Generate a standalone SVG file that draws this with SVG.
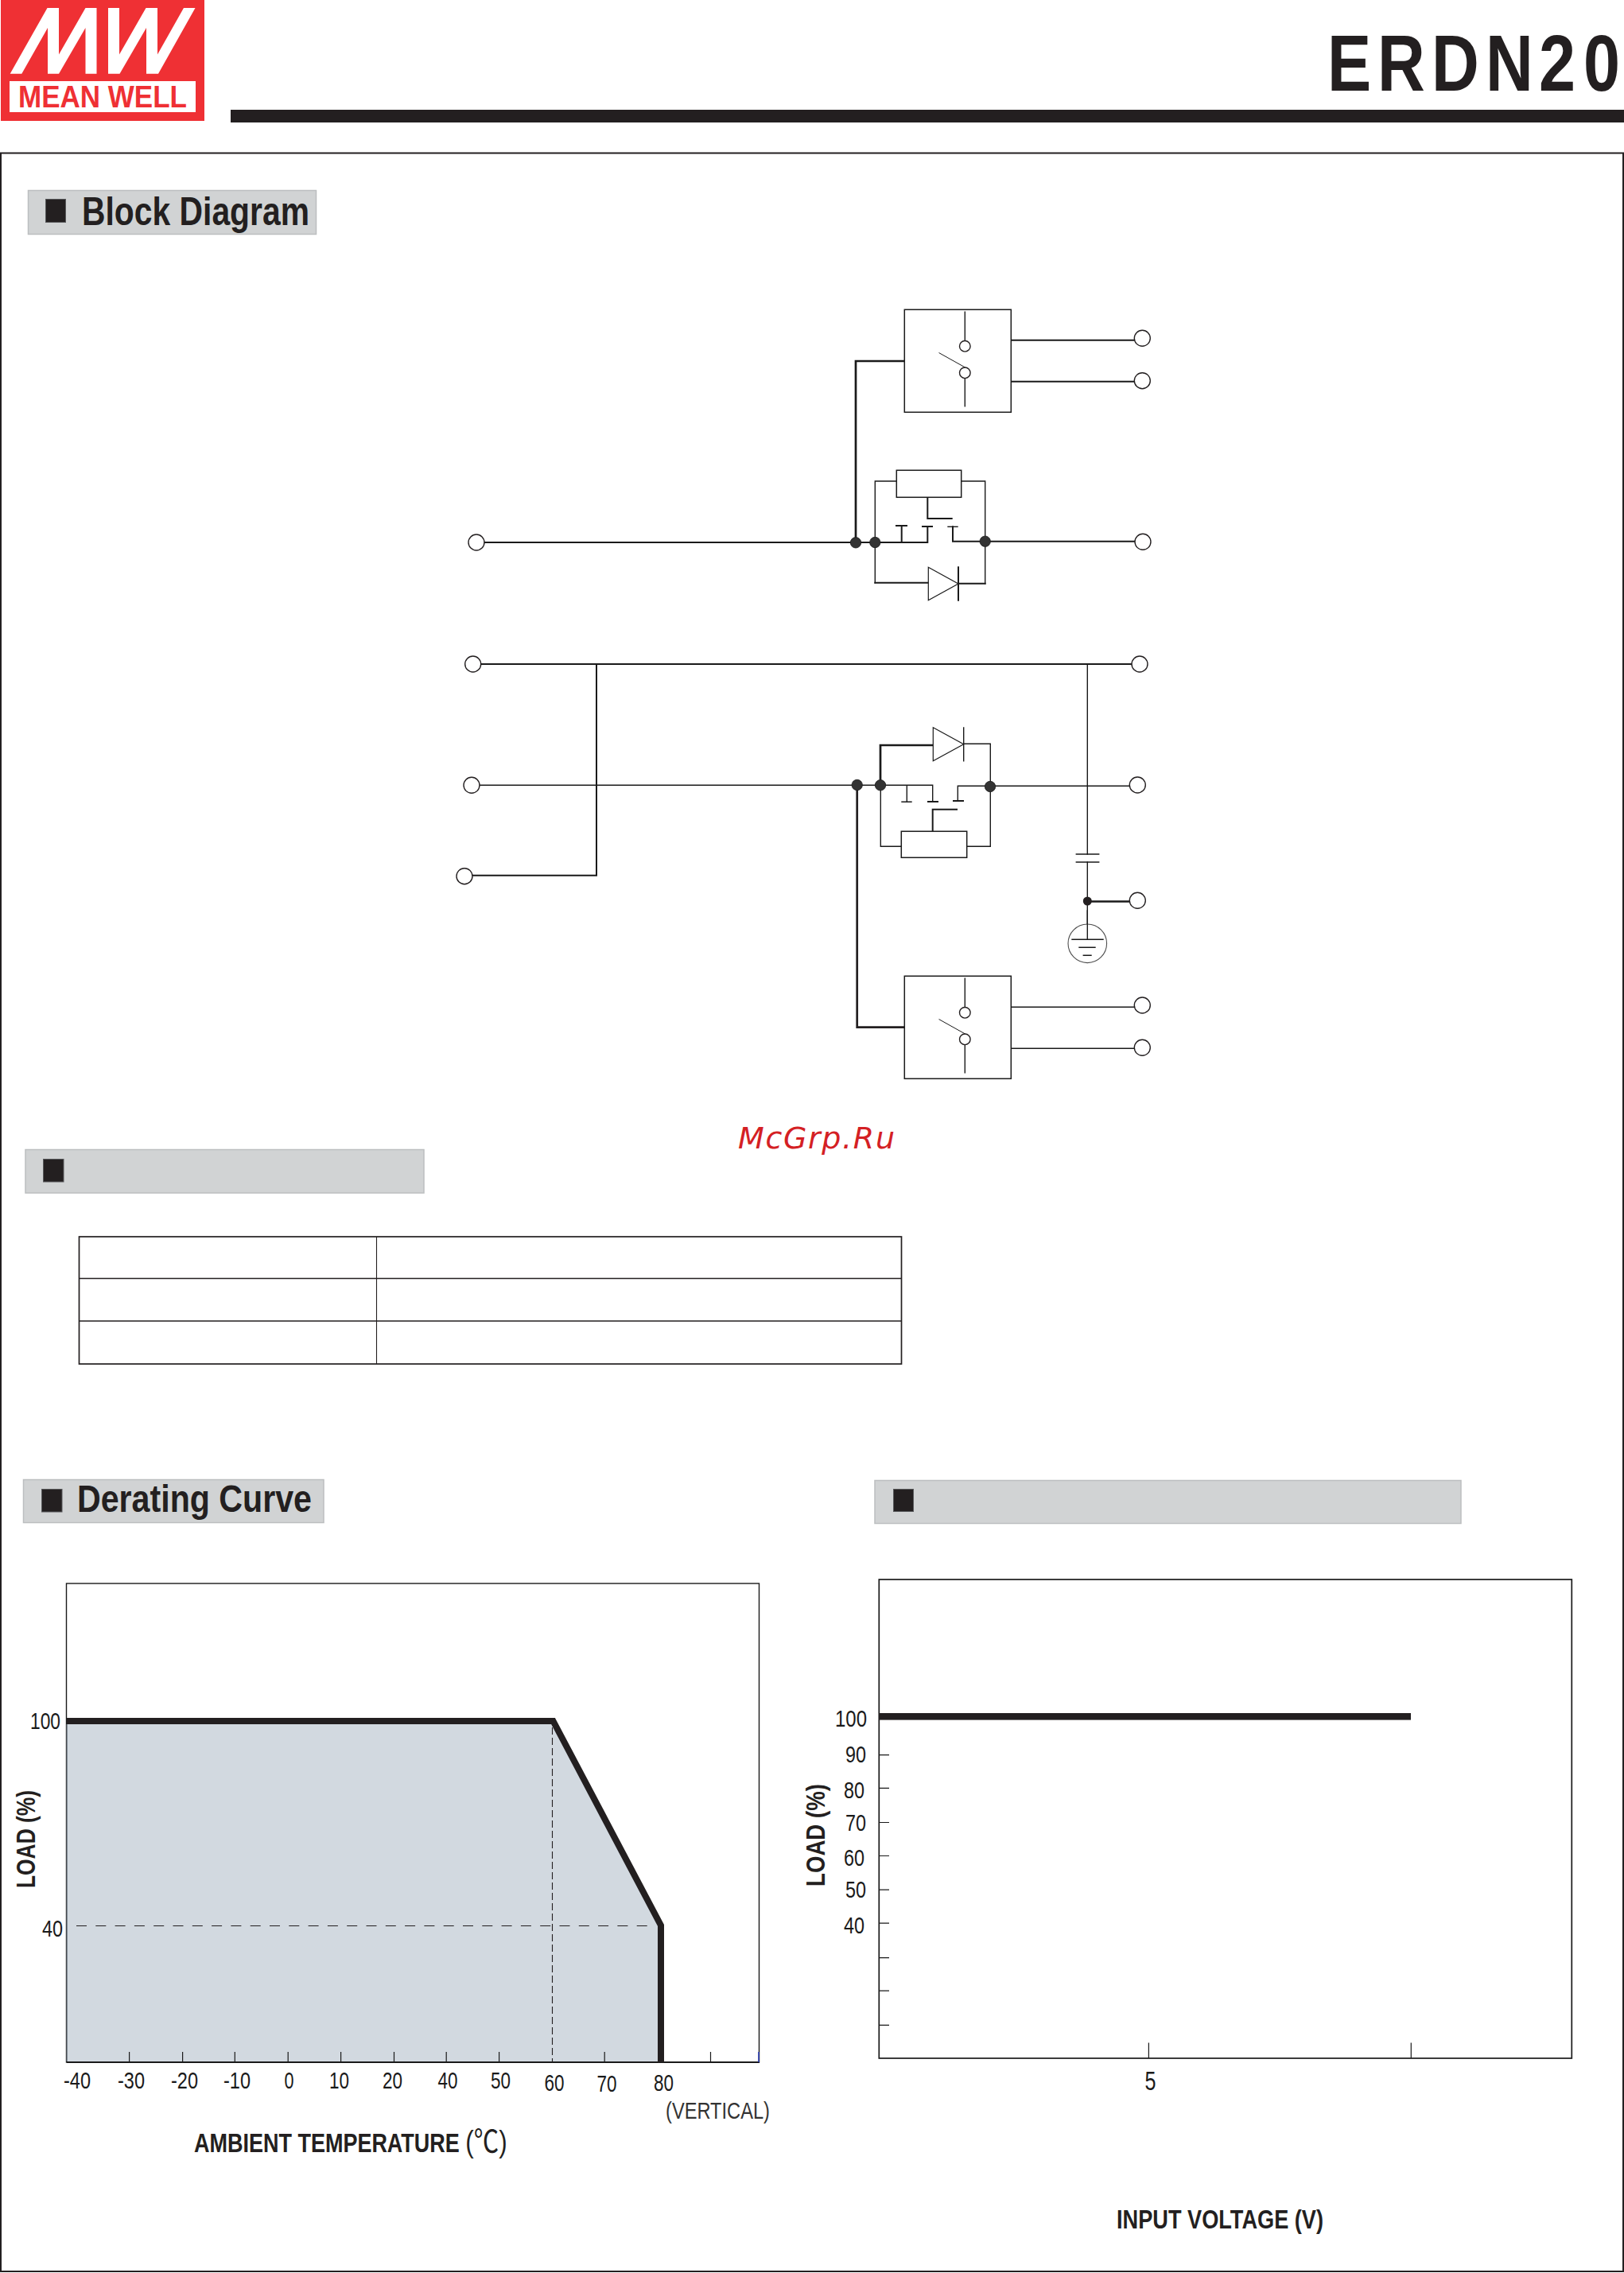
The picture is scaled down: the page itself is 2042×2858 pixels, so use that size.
<svg xmlns="http://www.w3.org/2000/svg" width="2042" height="2858" viewBox="0 0 2042 2858">
<style>
text{font-family:"Liberation Sans",Arial,sans-serif;fill:#231f20}
.b{font-weight:bold}
.d{font-size:30px;fill:#1a1a1a}
.w,.w1,.w2,.w3{fill:none;stroke:#1a1a1a;stroke-linecap:square}
.w{stroke-width:1.4}.w1{stroke-width:1}.w2{stroke-width:2}.w3{stroke-width:2.7;stroke-linecap:butt}
.term{fill:#fff;stroke:#231f20;stroke-width:1.4}
.dot{fill:#333;stroke:#1a1a1a;stroke-width:.8}
.box{fill:#fff;stroke:#1a1a1a;stroke-width:1.5}
.hd{fill:#d1d3d4;stroke:#bcbec0;stroke-width:1.5}
.sq{fill:#231f20;stroke:#58595b;stroke-width:1}
.tick{stroke:#1a1a1a;stroke-width:1.2;fill:none}
</style>
<defs>
<g id="sw">
<rect class="box" x="1137.3" y="0" width="134" height="129"/>
<path class="w" d="M1213.3 3V39M1213.3 86V121.5"/>
<path class="w1" d="M1181 54.5L1215 73.5"/>
<circle class="term" cx="1213.3" cy="46" r="6.8"/>
<circle class="term" cx="1213.3" cy="79.5" r="6.8"/>
</g>
</defs>
<rect width="2042" height="2858" fill="#fff"/>
<g id="logo">
<rect x="1" y="0" width="256" height="152" fill="#ef3034"/>
<path fill="#fff" d="M12.7 92.7L59.5 10H74V68.5L107.5 10H121.5V92.7H107.5V35L74 92.7H60V35L27.3 92.7ZM136 92.7V10H150V68.5L183.5 10H198V68.5L231 10H245.5L199 92.7H184V35L150.5 92.7Z"/>
<rect x="12" y="102" width="234" height="39" fill="#fff"/>
<text x="23" y="135" class="b" font-size="38" style="fill:#ef3034" textLength="212" lengthAdjust="spacingAndGlyphs">MEAN WELL</text>
</g>
<g id="title">
<rect x="290" y="138" width="1752" height="16" fill="#231f20"/>
<text transform="translate(1669,113.5) scale(0.82,1)" x="0 76.8 159.8 242.7 324.4 392.7" y="0" class="b" font-size="101">ERDN20</text>
</g>
<rect id="frame" x="1" y="192.5" width="2040" height="2663.5" fill="none" stroke="#231f20" stroke-width="2"/>

<g id="h-block">
<rect class="hd" x="35.5" y="239.5" width="362" height="55"/>
<rect class="sq" x="57.5" y="250.5" width="25" height="29"/>
<text x="103" y="283" class="b" font-size="50" textLength="286" lengthAdjust="spacingAndGlyphs">Block Diagram</text>
</g>

<g id="connectors">
<path class="w3" d="M1137 454H1076V682"/>
<path class="w2" d="M1271.3 427.7H1427M1271.3 479.7H1427"/>
<path class="w2" d="M609 682H1166.3V662M1133.7 682V661"/>
<path class="w" d="M1100.3 682V605H1127.3M1208.7 605H1238.7V733.7"/>
<path class="w2" d="M1166.3 625.3V652H1196.7M1198 662.3V680.7H1427"/>
<path class="w2" d="M1127 661H1140M1160 662H1172"/>
<path class="w" d="M1192 662.3H1204"/>
<path class="w" d="M1100.3 682V732.7"/>
<path class="w2" d="M1100.3 732.7H1167.3M1205 733.7H1238.7"/>
<path class="w2" d="M605 835H1423M750 835V1100.7H594"/>
<path class="w" d="M1367.3 835V1074M1367.3 1084V1181.3M603 987.3H1172.7V1008M1140.3 987.3V1008.3M1107.3 987.3V1064.3H1133.3M1215.7 1064.3H1245.3V935.3H1211.7M1204.3 1007V988.3H1420.7"/>
<path class="w3" d="M1107 987V937H1173.3"/>
<path class="w2" d="M1167 1008H1179M1199 1007H1211M1172.7 1045V1017.7H1203"/>
<path class="w" d="M1134 1008.3H1146M1353.3 1074H1381.7M1353.3 1084H1381.7"/>
<path class="w3" d="M1367.3 1133.5H1420.7"/>
<path d="M1077.7 987V1291.7H1137.3" fill="none" stroke="#231f20" stroke-width="2.7"/>
<path class="w" d="M1271.3 1266.3H1427M1271.3 1318.3H1427"/>
</g>

<g id="relay-top"><use href="#sw" x="0" y="389.3"/></g>
<g id="relay-bottom"><use href="#sw" x="0" y="1227.3"/></g>

<g id="coil-top"><rect class="box" x="1127.3" y="591.3" width="81.4" height="34"/></g>
<g id="coil-bottom"><rect class="box" x="1133.3" y="1045.3" width="82.4" height="33"/></g>

<g id="diode-top">
<path class="box" d="M1167.3 713.3L1205 734L1167.3 754.7Z" style="stroke-width:1.2"/>
<path class="w2" d="M1205 713.3V754.7"/>
</g>
<g id="diode-bottom">
<path class="box" d="M1173.3 914.7L1211.7 935.7L1173.3 956.7Z" style="stroke-width:1.2"/>
<path class="w" d="M1211.7 915V956.7"/>
</g>

<g id="ground">
<circle cx="1367.3" cy="1186.3" r="24.3" fill="#fff" stroke="#4d4d4d" stroke-width="1.1"/>
<path class="w" d="M1367.3 1145V1181.3"/>
<path class="w" d="M1348 1181.3H1387M1357 1191.3H1377M1362.3 1201.3H1372"/>
</g>

<g id="junctions">
<circle class="dot" cx="1076" cy="682.3" r="6.7"/>
<circle class="dot" cx="1100.3" cy="682" r="6.7"/>
<circle class="dot" cx="1238.7" cy="680.7" r="6.7"/>
<circle class="dot" cx="1077.7" cy="987" r="6.7"/>
<circle class="dot" cx="1107" cy="987.3" r="6.7"/>
<circle class="dot" cx="1245" cy="989" r="6.7"/>
<circle cx="1367.3" cy="1133" r="5.5" fill="#231f20"/>
</g>

<g id="terminals">
<circle id="t1" class="term" cx="599" cy="682" r="10"/>
<circle id="t2" class="term" cx="1437" cy="681.3" r="10"/>
<circle id="t3" class="term" cx="1436.3" cy="425.3" r="10"/>
<circle id="t4" class="term" cx="1436.3" cy="478.7" r="10"/>
<circle id="t5" class="term" cx="594.7" cy="835" r="10"/>
<circle id="t6" class="term" cx="1433" cy="835" r="10"/>
<circle id="t7" class="term" cx="593" cy="987.3" r="10"/>
<circle id="t8" class="term" cx="1430.3" cy="987" r="10"/>
<circle id="t9" class="term" cx="584" cy="1101.7" r="10"/>
<circle id="t10" class="term" cx="1430.3" cy="1132.3" r="10"/>
<circle id="t11" class="term" cx="1436.3" cy="1264" r="10"/>
<circle id="t12" class="term" cx="1436.3" cy="1317.3" r="10"/>
</g>

<text id="watermark" x="928" y="1444" font-size="38" font-style="italic" style="font-family:'DejaVu Sans',sans-serif;fill:#d42024" textLength="197">McGrp.Ru</text>

<g id="h-blank1">
<rect class="hd" x="32" y="1445.5" width="501" height="54.5"/>
<rect class="sq" x="54.5" y="1457.5" width="25.5" height="28.5"/>
</g>
<g id="table" fill="none" stroke="#231f20">
<rect x="99.5" y="1555" width="1034" height="160" stroke-width="1.7"/>
<path stroke-width="1.7" d="M99.5 1607.5H1133.5M99.5 1661H1133.5"/>
<path stroke-width="1.1" d="M473.5 1555V1715"/>
</g>

<g id="h-derating">
<rect class="hd" x="29.5" y="1860.5" width="377.5" height="54"/>
<rect class="sq" x="52.5" y="1872.5" width="25.5" height="28.5"/>
<text x="97" y="1901" class="b" font-size="48" textLength="295" lengthAdjust="spacingAndGlyphs">Derating Curve</text>
</g>
<g id="h-blank2">
<rect class="hd" x="1100" y="1861.5" width="737" height="54"/>
<rect class="sq" x="1123.5" y="1872.5" width="25" height="28"/>
</g>

<g id="chart-derating">
<rect x="83.5" y="1991" width="871" height="602" fill="#fff" stroke="#1a1a1a" stroke-width="1.4"/>
<path d="M84.5 2164H694L831 2421V2592H84.5Z" fill="#d2d9e0"/>
<path d="M84.3 2168V2592" stroke="#808a94" stroke-width="1.4" fill="none"/>
<path d="M84 2593H955" stroke="#1a1a1a" stroke-width="2" fill="none"/>
<path class="tick" d="M162.6 2580V2593M229.6 2580V2593M295.3 2580V2593M362.2 2580V2593M428.6 2580V2593M495.5 2580V2593M561.2 2580V2593M627.6 2580V2593M760.2 2580V2593M893.5 2580V2593"/>
<path d="M954 2580V2593" stroke="#2233bb" stroke-width="1.4"/>
<path d="M96 2421.5H825" stroke="#231f20" stroke-width="1.1" stroke-dasharray="13 11.3" fill="none"/>
<path d="M694.5 2172V2593" stroke="#231f20" stroke-width="1.1" stroke-dasharray="9 4" fill="none"/>
<path d="M84 2164H695.5L831 2421V2593" fill="none" stroke="#231f20" stroke-width="8"/>
<text class="d" x="38" y="2174" textLength="38" lengthAdjust="spacingAndGlyphs">100</text>
<text class="d" x="53" y="2434.5" textLength="26" lengthAdjust="spacingAndGlyphs">40</text>
<text class="b" font-size="33" transform="translate(43.5,2374) rotate(-90)" textLength="123" lengthAdjust="spacingAndGlyphs">LOAD (%)</text>
<text class="d" x="80" y="2626" textLength="34" lengthAdjust="spacingAndGlyphs">-40</text>
<text class="d" x="148" y="2626" textLength="34" lengthAdjust="spacingAndGlyphs">-30</text>
<text class="d" x="215" y="2626" textLength="34" lengthAdjust="spacingAndGlyphs">-20</text>
<text class="d" x="281" y="2626" textLength="34" lengthAdjust="spacingAndGlyphs">-10</text>
<text class="d" x="357.5" y="2626" textLength="12" lengthAdjust="spacingAndGlyphs">0</text>
<text class="d" x="414" y="2626" textLength="25" lengthAdjust="spacingAndGlyphs">10</text>
<text class="d" x="481" y="2626" textLength="25" lengthAdjust="spacingAndGlyphs">20</text>
<text class="d" x="550.5" y="2626" textLength="25" lengthAdjust="spacingAndGlyphs">40</text>
<text class="d" x="617" y="2626" textLength="25" lengthAdjust="spacingAndGlyphs">50</text>
<text class="d" x="684.5" y="2629" textLength="25" lengthAdjust="spacingAndGlyphs">60</text>
<text class="d" x="750.5" y="2629.5" textLength="25" lengthAdjust="spacingAndGlyphs">70</text>
<text class="d" x="822" y="2628.5" textLength="25" lengthAdjust="spacingAndGlyphs">80</text>
<text x="837" y="2664" font-size="30" style="fill:#333" textLength="131" lengthAdjust="spacingAndGlyphs">(VERTICAL)</text>
<text class="b" font-size="33.5" transform="translate(244,2706) scale(0.806,1)">AMBIENT TEMPERATURE <tspan font-weight="normal" font-size="39" style="font-family:'Liberation Sans','Noto Sans CJK SC',sans-serif">(℃)</tspan></text>
</g>

<g id="chart-input">
<rect x="1105.3" y="1986" width="871" height="602" fill="#fff" stroke="#1a1a1a" stroke-width="1.7"/>
<path class="tick" d="M1105 2158.5H1118M1105 2206.7H1118M1105 2248.4H1118M1105 2291.5H1118M1105 2333.5H1118M1105 2376.2H1118M1105 2418.2H1118M1105 2461.6H1118M1105 2503.2H1118M1105 2546.3H1118"/>
<path class="tick" d="M1444.4 2568.5V2588M1774.3 2568.5V2588"/>
<rect x="1105" y="2154" width="669" height="8.6" fill="#231f20"/>
<text class="d" x="1050" y="2171" textLength="40" lengthAdjust="spacingAndGlyphs">100</text>
<text class="d" x="1063" y="2216" textLength="26" lengthAdjust="spacingAndGlyphs">90</text>
<text class="d" x="1061" y="2261" textLength="26" lengthAdjust="spacingAndGlyphs">80</text>
<text class="d" x="1063" y="2301.5" textLength="26" lengthAdjust="spacingAndGlyphs">70</text>
<text class="d" x="1061" y="2346" textLength="26" lengthAdjust="spacingAndGlyphs">60</text>
<text class="d" x="1063" y="2386" textLength="26" lengthAdjust="spacingAndGlyphs">50</text>
<text class="d" x="1061" y="2431" textLength="26" lengthAdjust="spacingAndGlyphs">40</text>
<text class="d" x="1439.5" y="2627.5" style="font-size:33.5px" textLength="14" lengthAdjust="spacingAndGlyphs">5</text>
<text class="b" font-size="33" transform="translate(1036.7,2372) rotate(-90)" textLength="129" lengthAdjust="spacingAndGlyphs">LOAD (%)</text>
<text class="b" x="1404" y="2801.7" font-size="32.5" textLength="260" lengthAdjust="spacingAndGlyphs">INPUT VOLTAGE (V)</text>
</g>
</svg>
